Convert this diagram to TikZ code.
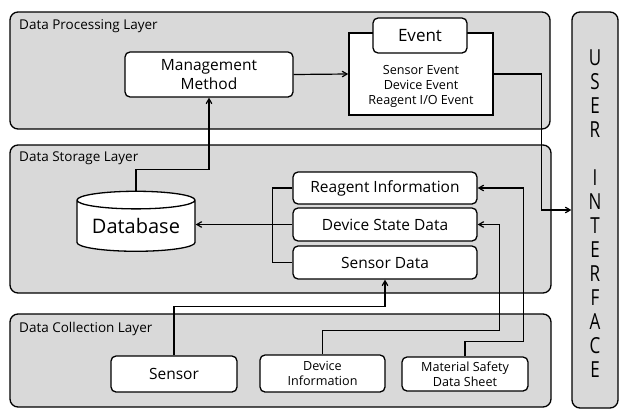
\documentclass[tikz,border=0pt]{standalone}
\usepackage{fontspec}
\setmainfont{Open Sans}
\usetikzlibrary{arrows,shapes.geometric}
\definecolor{L}{RGB}{217,217,217}
\tikzset{
  layer/.style={draw, fill=L, rounded corners=8pt, line width=1.3pt, inner sep=0pt},
  box/.style={draw, fill=white, rounded corners=5pt, line width=1.3pt, inner sep=0pt, align=center, font=\fontsize{15.5}{19}\selectfont},
  small/.style={font=\fontsize{12.6}{15}\selectfont},
  lbl/.style={anchor=west, inner sep=0pt, font=\fontsize{13.5}{16}\selectfont},
  dbshape/.style={cylinder, shape border rotate=90, aspect=0.2, draw, fill=white, line width=1.3pt, minimum width=118pt, minimum height=60pt, inner sep=0pt, font=\fontsize{20}{24}\selectfont},
  conn/.style={line width=1.2pt},
  arr/.style={conn, ->, >=angle 60}
}

\begin{document}
\begin{tikzpicture}[x=1pt, y=-1pt]
  \useasboundingbox (0,0) rectangle (619,410);
  \node[layer, minimum width=540pt, minimum height=117pt] (proc) at (280,70.5) {};
  \node[layer, minimum width=541pt, minimum height=148pt] (stor) at (280.5,219) {};
  \node[layer, minimum width=541pt, minimum height=93pt] (coll) at (280.5,360.5) {};
  \node[layer, minimum width=46pt, minimum height=396pt] (ui) at (595,210) {};
  \node[lbl] (proclbl) at (19,26) {Data Processing Layer};
  \node[lbl] (storlbl) at (19,158) {Data Storage Layer};
  \node[lbl] (colllbl) at (19,329) {Data Collection Layer};
  \begin{scope}[shift={(595,214)}, yscale=1.3, transform shape]
    \node[align=center, inner sep=0pt, font=\fontsize{17}{18.46}\selectfont] (uitext) at (0,0) {U\\S\\E\\R\\[18.46pt]I\\N\\T\\E\\R\\F\\A\\C\\E};
  \end{scope}

  \node[box, minimum width=168pt, minimum height=45pt] (mm) at (209,74.5) {Management\\Method};
  \node[draw, fill=white, line width=1.6pt, minimum width=144pt, minimum height=82pt] (evbox) at (421,74) {};
  \node[small, align=center, inner sep=0pt] (evlist) at (421,86) {Sensor Event\\Device Event\\Reagent I/O Event};
  \node[box, minimum width=94pt, minimum height=35pt, font=\fontsize{17}{20}\selectfont] (ev) at (420,35.5) {Event};

  \node[dbshape] (db) at (136,226) {Database};
  \node[box, minimum width=184pt, minimum height=32pt] (reg) at (385,188) {Reagent Information};
  \node[box, minimum width=184pt, minimum height=33pt] (dev) at (385,224.5) {Device State Data};
  \node[box, minimum width=184pt, minimum height=33pt] (sen) at (385,262.5) {Sensor Data};

  \node[box, minimum width=126pt, minimum height=36pt] (sensor) at (174,374) {Sensor};
  \node[box, small, minimum width=125pt, minimum height=37pt] (devinfo) at (322.5,373.5) {Device\\Information};
  \node[box, small, minimum width=126pt, minimum height=34pt] (msds) at (465,374) {Material Safety\\Data Sheet};

  \draw[arr] (db.north) -- ++(0,-21) -| (mm.south);
  \draw[arr] (mm.east) -- (evbox.west);
  \draw[arr] (evbox.east) -| ([xshift=-30pt]ui.west) -- (ui.west);
  \draw[conn] (reg.west) -- ++(-20,0) |- (sen.west);
  \draw[arr] (dev.west) -- (dev.west -| db.east);
  \draw[arr] (sensor.north) -- ++(0,-49) -| (sen.south);
  \draw[arr] (devinfo.north) -- ++(0,-24) -| ([xshift=22pt]dev.east) -- (dev.east);
  \draw[arr] (msds.north) -- ++(0,-15) -| ([xshift=46pt]reg.east) -- (reg.east);
\end{tikzpicture}
\end{document}
